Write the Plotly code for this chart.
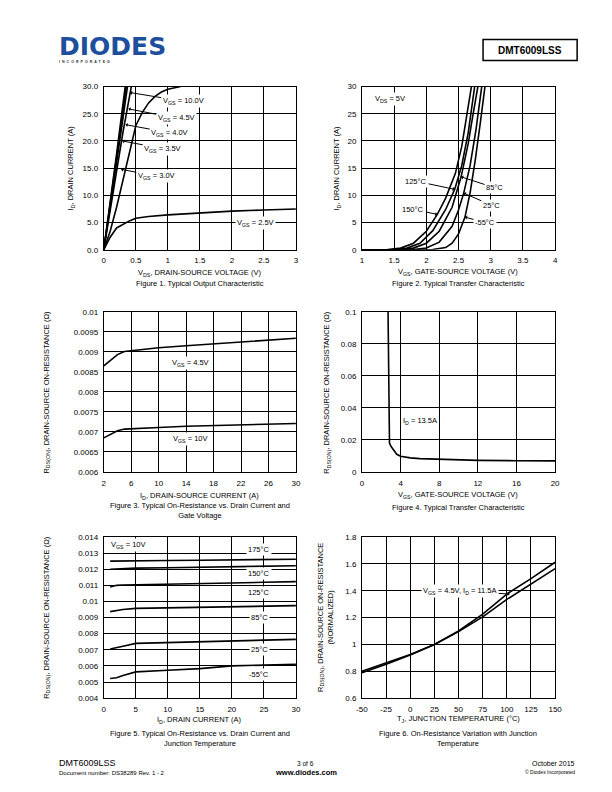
import plotly.graph_objects as go

W, H = 612, 792
FONT = "Liberation Sans"

# ---------------- Data ----------------
# Figure 1: Output characteristic (VDS in V, ID in A)
f1_vds_10v = [0, 0.05, 0.1, 0.2, 0.3, 0.335]
f1_id_10v = [0, 4.2, 8.6, 17.6, 26.8, 30]
f1_vds_45v = [0, 0.05, 0.1, 0.2, 0.3, 0.35]
f1_id_45v = [0, 4.0, 8.2, 16.9, 25.6, 30]
f1_vds_40v = [0, 0.05, 0.1, 0.2, 0.3, 0.37]
f1_id_40v = [0, 3.8, 7.8, 16.0, 24.2, 30]
f1_vds_35v = [0, 0.05, 0.1, 0.2, 0.3, 0.4, 0.43]
f1_id_35v = [0, 3.4, 7.0, 14.4, 21.6, 28.2, 30]
f1_vds_30v = [0, 0.1, 0.2, 0.3, 0.4, 0.5, 0.6, 0.7, 0.8, 0.9, 1.0, 1.1, 1.2]
f1_id_30v = [0, 3.4, 7.8, 12.8, 18.0, 22.8, 25.2, 27.0, 28.2, 29.0, 29.5, 29.8, 30.0]
f1_vds_25v = [0, 0.05, 0.1, 0.2, 0.3, 0.4, 0.5, 0.7, 1.0, 1.5, 2.0, 2.5, 3.0]
f1_id_25v = [0, 1.2, 2.3, 4.0, 4.7, 5.3, 5.8, 6.1, 6.4, 6.8, 7.1, 7.3, 7.5]
f1_xticks = [0, 0.5, 1, 1.5, 2, 2.5, 3]
f1_xtext = ["0", "0.5", "1", "1.5", "2", "2.5", "3"]
f1_yticks = [0, 5, 10, 15, 20, 25, 30]
f1_ytext = ["0.0", "5.0", "10.0", "15.0", "20.0", "25.0", "30.0"]

# Figure 2: Transfer characteristic (VGS in V, ID in A)
f2_vgs_150 = [1.0, 1.4, 1.6, 1.8, 2.0, 2.17, 2.3, 2.45, 2.55, 2.63, 2.7]
f2_id_150 = [0, 0.05, 0.3, 1.2, 3.4, 6.5, 9.5, 14.0, 19.0, 24.5, 30]
f2_vgs_125 = [1.0, 1.5, 1.7, 1.9, 2.1, 2.3, 2.44, 2.55, 2.65, 2.75]
f2_id_125 = [0, 0.05, 0.3, 1.2, 3.5, 7.4, 11.1, 15.5, 21.5, 30]
f2_vgs_85 = [1.0, 1.6, 1.8, 2.0, 2.2, 2.4, 2.54, 2.65, 2.72, 2.8]
f2_id_85 = [0, 0.05, 0.3, 1.2, 3.4, 7.8, 13.4, 19.5, 24.5, 30]
f2_vgs_25 = [1.0, 1.8, 2.0, 2.2, 2.4, 2.5, 2.58, 2.68, 2.77, 2.86]
f2_id_25 = [0, 0.05, 0.3, 1.4, 4.3, 7.3, 10.4, 15.5, 22, 30]
f2_vgs_m55 = [1.0, 2.1, 2.3, 2.4, 2.5, 2.6, 2.68, 2.76, 2.84, 2.91]
f2_id_m55 = [0, 0.05, 0.4, 1.2, 2.9, 6.0, 10.5, 16.5, 23.5, 30]
f2_xticks = [1, 1.5, 2, 2.5, 3, 3.5, 4]
f2_xtext = ["1", "1.5", "2", "2.5", "3", "3.5", "4"]
f2_yticks = [0, 5, 10, 15, 20, 25, 30]
f2_ytext = ["0", "5", "10", "15", "20", "25", "30"]

# Figure 3: RDS(ON) vs ID and VGS
f3_id = [2, 3, 4, 5, 6, 10, 14, 18, 22, 26, 30]
f3_r_45v = [0.00865, 0.0088, 0.00893, 0.00901, 0.00903, 0.0091, 0.00915, 0.0092, 0.00924, 0.00929, 0.00934]
f3_r_10v = [0.00685, 0.00695, 0.00703, 0.00707, 0.00708, 0.00711, 0.00714, 0.00716, 0.00718, 0.0072, 0.00721]
f3_xticks = [2, 6, 10, 14, 18, 22, 26, 30]
f3_xtext = ["2", "6", "10", "14", "18", "22", "26", "30"]
f3_yticks = [0.006, 0.0065, 0.007, 0.0075, 0.008, 0.0085, 0.009, 0.0095, 0.01]
f3_ytext = ["0.006", "0.0065", "0.007", "0.0075", "0.008", "0.0085", "0.009", "0.0095", "0.01"]

# Figure 4: RDS(ON) vs VGS (ID = 13.5A)
f4_vgs = [2.7, 2.75, 2.8, 2.85, 3.0, 3.3, 3.6, 4, 5, 6, 8, 10, 12, 16, 20]
f4_r = [0.1, 0.06, 0.03, 0.018, 0.016, 0.0135, 0.011, 0.0098, 0.0088, 0.0083, 0.0078, 0.0074, 0.0072, 0.007, 0.0069]
f4_xticks = [0, 4, 8, 12, 16, 20]
f4_xtext = ["0", "4", "8", "12", "16", "20"]
f4_yticks = [0, 0.02, 0.04, 0.06, 0.08, 0.1]
f4_ytext = ["0", "0.02", "0.04", "0.06", "0.08", "0.1"]

# Figure 5: RDS(ON) vs ID and TJ (VGS = 10V)
f5_id = [1, 2, 3, 5, 10, 15, 20, 25, 30]
f5_r_175 = [0.01250, 0.01250, 0.01251, 0.01252, 0.01254, 0.01256, 0.01258, 0.01260, 0.01262]
f5_r_150 = [0.01200, 0.01202, 0.01205, 0.01207, 0.01209, 0.01212, 0.01215, 0.01219, 0.01222]
f5_r_125 = [0.01090, 0.01100, 0.01102, 0.01103, 0.01106, 0.01110, 0.01115, 0.01119, 0.01123]
f5_r_85 = [0.00937, 0.00945, 0.00950, 0.00957, 0.00961, 0.00965, 0.00968, 0.00971, 0.00974]
f5_r_25 = [0.00705, 0.00712, 0.00722, 0.00740, 0.00745, 0.00750, 0.00755, 0.00760, 0.00765]
f5_r_m55 = [0.00522, 0.00527, 0.00540, 0.00563, 0.00573, 0.00583, 0.00600, 0.00605, 0.00610]
f5_xticks = [0, 5, 10, 15, 20, 25, 30]
f5_xtext = ["0", "5", "10", "15", "20", "25", "30"]
f5_yticks = [0.004, 0.005, 0.006, 0.007, 0.008, 0.009, 0.01, 0.011, 0.012, 0.013, 0.014]
f5_ytext = ["0.004", "0.005", "0.006", "0.007", "0.008", "0.009", "0.01", "0.011", "0.012", "0.013", "0.014"]

# Figure 6: Normalized RDS(ON) vs TJ
f6_tj = [-50, -25, 0, 25, 50, 75, 100, 125, 150]
f6_r_a = [0.80, 0.86, 0.925, 1.0, 1.10, 1.225, 1.375, 1.49, 1.612]
f6_r_b = [0.79, 0.853, 0.922, 1.0, 1.095, 1.205, 1.335, 1.45, 1.565]
f6_xticks = [-50, -25, 0, 25, 50, 75, 100, 125, 150]
f6_xtext = ["-50", "-25", "0", "25", "50", "75", "100", "125", "150"]
f6_yticks = [0.6, 0.8, 1.0, 1.2, 1.4, 1.6, 1.8]
f6_ytext = ["0.6", "0.8", "1", "1.2", "1.4", "1.6", "1.8"]


# ---------------- Helpers ----------------
# page positions (as measured on the reference) -> figure fractions,
# compensating for the page offset of the rendered HTML
def px(x):
    return ((x - 14.3) / 0.978) / W


def py(y):
    return 1 - ((y - 12.5) / 0.9877) / H


LEFT = [px(104), px(296)]
RIGHT = [px(362), px(555)]
ROW1 = [py(250), py(87)]
ROW2 = [py(472), py(312)]
ROW3 = [py(698), py(537)]

fig = go.Figure()
LINE = dict(color="black", width=1.6)


def add_curve(x, y, n):
    fig.add_trace(go.Scatter(x=x, y=y, mode="lines", line=LINE,
                             xaxis="x" if n == 1 else f"x{n}",
                             yaxis="y" if n == 1 else f"y{n}",
                             showlegend=False, hoverinfo="skip"))


def axis(domain, rng, tv, tt, anchor):
    return dict(domain=domain, range=rng, tickvals=tv, ticktext=tt,
                showgrid=True, gridcolor="black", gridwidth=1,
                showline=True, linecolor="black", linewidth=1, mirror=True,
                zeroline=False, ticks="", anchor=anchor, fixedrange=True,
                tickfont=dict(family=FONT, size=8, color="black"),
                ticklabelstandoff=3)


# Figure 1
for xs, ys in [(f1_vds_10v, f1_id_10v), (f1_vds_45v, f1_id_45v), (f1_vds_40v, f1_id_40v),
               (f1_vds_35v, f1_id_35v), (f1_vds_30v, f1_id_30v), (f1_vds_25v, f1_id_25v)]:
    add_curve(xs, ys, 1)
# Figure 2
for xs, ys in [(f2_vgs_150, f2_id_150), (f2_vgs_125, f2_id_125), (f2_vgs_85, f2_id_85),
               (f2_vgs_25, f2_id_25), (f2_vgs_m55, f2_id_m55)]:
    add_curve(xs, ys, 2)
# Figure 3
add_curve(f3_id, f3_r_45v, 3)
add_curve(f3_id, f3_r_10v, 3)
# Figure 4
add_curve(f4_vgs, f4_r, 4)
# Figure 5
for ys in [f5_r_175, f5_r_150, f5_r_125, f5_r_85, f5_r_25, f5_r_m55]:
    add_curve(f5_id, ys, 5)
# Figure 6
add_curve(f6_tj, f6_r_a, 6)
add_curve(f6_tj, f6_r_b, 6)

layout = dict(
    width=W, height=H, margin=dict(l=0, r=0, t=0, b=0),
    paper_bgcolor="white", plot_bgcolor="white", showlegend=False,
    font=dict(family=FONT, color="black"),
    xaxis=axis(LEFT, [0, 3], f1_xticks, f1_xtext, "y"),
    yaxis=axis(ROW1, [0, 30], f1_yticks, f1_ytext, "x"),
    xaxis2=axis(RIGHT, [1, 4], f2_xticks, f2_xtext, "y2"),
    yaxis2=axis(ROW1, [0, 30], f2_yticks, f2_ytext, "x2"),
    xaxis3=axis(LEFT, [2, 30], f3_xticks, f3_xtext, "y3"),
    yaxis3=axis(ROW2, [0.006, 0.01], f3_yticks, f3_ytext, "x3"),
    xaxis4=axis(RIGHT, [0, 20], f4_xticks, f4_xtext, "y4"),
    yaxis4=axis(ROW2, [0, 0.1], f4_yticks, f4_ytext, "x4"),
    xaxis5=axis(LEFT, [0, 30], f5_xticks, f5_xtext, "y5"),
    yaxis5=axis(ROW3, [0.004, 0.014], f5_yticks, f5_ytext, "x5"),
    xaxis6=axis(RIGHT, [-50, 150], f6_xticks, f6_xtext, "y6"),
    yaxis6=axis(ROW3, [0.6, 1.8], f6_yticks, f6_ytext, "x6"),
)
fig.update_layout(**layout)

ann = []


def label(n, x, y, text, tip=None, size=7.5):
    xr = "x" if n == 1 else f"x{n}"
    yr = "y" if n == 1 else f"y{n}"
    d = dict(xref=xr, yref=yr, text=text, bgcolor="white", borderpad=1,
             font=dict(family=FONT, size=size, color="black"))
    if tip is None:
        d.update(x=x, y=y, showarrow=False)
    else:
        d.update(x=tip[0], y=tip[1], ax=x, ay=y, axref=xr, ayref=yr,
                 showarrow=True, arrowhead=1, arrowsize=0.7, arrowwidth=1,
                 arrowcolor="black")
    ann.append(d)


# Figure 1 labels
label(1, 1.24, 27.3, "V<sub>GS</sub> = 10.0V", (0.41, 28.9))
label(1, 1.13, 24.2, "V<sub>GS</sub> = 4.5V", (0.385, 25.9))
label(1, 1.03, 21.5, "V<sub>GS</sub> = 4.0V", (0.34, 23.0))
label(1, 0.92, 18.6, "V<sub>GS</sub> = 3.5V", (0.29, 20.0))
label(1, 0.82, 13.5, "V<sub>GS</sub> = 3.0V", (0.27, 14.8))
label(1, 2.37, 5.0, "V<sub>GS</sub> = 2.5V")
# Figure 2 labels
label(2, 1.43, 27.7, "V<sub>DS</sub> = 5V")
label(2, 1.84, 12.6, "125°C", (2.44, 11.1))
label(2, 3.06, 11.4, "85°C", (2.54, 13.4))
label(2, 1.80, 7.4, "150°C", (2.17, 6.5))
label(2, 3.01, 8.2, "25°C", (2.58, 10.4))
label(2, 2.91, 5.0, "-55°C", (2.60, 6.0))
# Figure 3 labels
label(3, 14.6, 0.00872, "V<sub>GS</sub> = 4.5V")
label(3, 14.6, 0.00683, "V<sub>GS</sub> = 10V")
# Figure 4 label
label(4, 6.0, 0.032, "I<sub>D</sub> = 13.5A")
# Figure 5 labels
label(5, 3.9, 0.01349, "V<sub>GS</sub> = 10V")
label(5, 24.3, 0.01322, "175°C")
label(5, 24.3, 0.01175, "150°C")
label(5, 24.3, 0.01058, "125°C")
label(5, 24.3, 0.009, "85°C")
label(5, 24.3, 0.007, "25°C")
label(5, 24.3, 0.00545, "-55°C")
# Figure 6 label
label(6, 51.7, 1.398, "V<sub>GS</sub> = 4.5V, I<sub>D</sub> = 11.5A", (103, 1.375))


def ptext(x, y, text, size=7.5, xanchor="center", angle=0, color="black", bold=False, family=FONT):
    ann.append(dict(xref="paper", yref="paper", x=px(x), y=py(y), text=text,
                    showarrow=False, xanchor=xanchor, yanchor="middle",
                    textangle=angle,
                    font=dict(family=family, size=size, color=color,
                              weight="bold" if bold else "normal")))


# Axis titles
ptext(200, 273, "V<sub>DS</sub>, DRAIN-SOURCE VOLTAGE (V)")
ptext(458, 272, "V<sub>GS</sub>, GATE-SOURCE VOLTAGE (V)")
ptext(71, 168, "I<sub>D</sub>, DRAIN CURRENT (A)", angle=-90)
ptext(337, 168, "I<sub>D</sub>, DRAIN CURRENT (A)", angle=-90)

ptext(200, 496, "I<sub>D</sub>, DRAIN-SOURCE CURRENT (A)")
ptext(458, 495, "V<sub>GS</sub>, GATE-SOURCE VOLTAGE (V)")
ptext(47, 392, "R<sub>DS(ON)</sub>, DRAIN-SOURCE ON-RESISTANCE (Ω)", angle=-90)
ptext(327, 392, "R<sub>DS(ON)</sub>, DRAIN-SOURCE ON-RESISTANCE (Ω)", angle=-90)

ptext(200, 720, "I<sub>D</sub>, DRAIN CURRENT (A)")
ptext(458, 719, "T<sub>J</sub>, JUNCTION TEMPERATURE (°C)")
ptext(47, 617, "R<sub>DS(ON)</sub>, DRAIN-SOURCE ON-RESISTANCE (Ω)", angle=-90)
ptext(325, 617, "R<sub>DS(ON)</sub>, DRAIN-SOURCE ON-RESISTANCE<br>(NORMALIZED)", angle=-90)

# Captions
ptext(200, 284, "Figure 1. Typical Output Characteristic")
ptext(458, 284, "Figure 2. Typical Transfer Characteristic")
ptext(200, 511, "Figure 3. Typical On-Resistance vs. Drain Current and<br>Gate Voltage")
ptext(458, 508, "Figure 4. Typical Transfer Characteristic")
ptext(200, 738, "Figure 5. Typical On-Resistance vs. Drain Current and<br>Junction Temperature")
ptext(458, 738, "Figure 6. On-Resistance Variation with Junction<br>Temperature")

# Header
ptext(57, 47, "DIODES", size=25, xanchor="left", color="#1d4f9c", bold=True, family="DejaVu Sans")
ptext(57, 62, "I  N  C  O  R  P  O  R  A  T  E  D", size=3.6, xanchor="left", color="#333333", bold=True)
ptext(530, 51, "DMT6009LSS", size=10, bold=True)

# Footer
ptext(57, 763, "DMT6009LSS", size=9, xanchor="left")
ptext(57, 773, "Document number: DS38289 Rev. 1 - 2", size=6, xanchor="left")
ptext(306, 763, "3 of 6", size=6.5)
ptext(306, 772, "www.diodes.com", size=7.5, bold=True)
ptext(577, 763, "October 2015", size=7, xanchor="right")
ptext(577, 772, "© Diodes Incorporated", size=5, xanchor="right")

fig.update_layout(annotations=ann)

fig.add_shape(type="rect", xref="paper", yref="paper",
              x0=px(483), x1=px(577), y0=py(61), y1=py(40),
              line=dict(color="black", width=1.5))

fig.write_html("out.html")
